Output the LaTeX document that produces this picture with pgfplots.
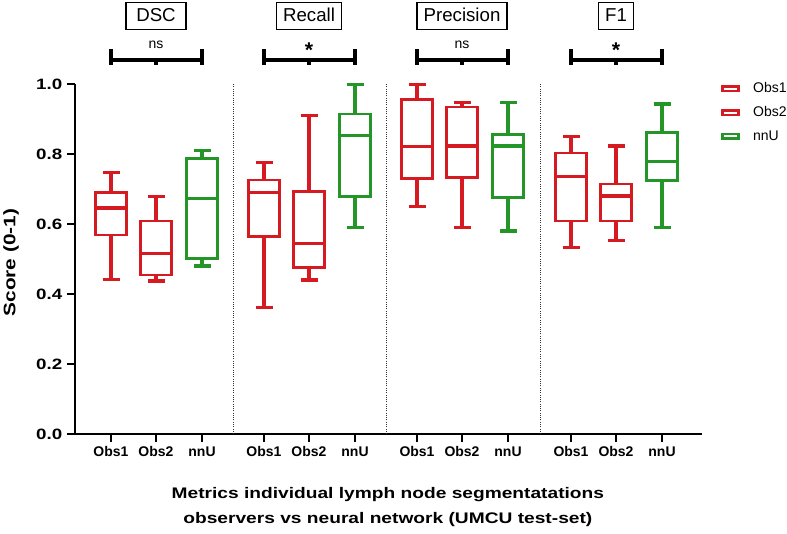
\documentclass[border=0pt]{standalone}
\usepackage{fontspec}
\setmainfont{Liberation Sans}
\newfontfamily\widefont{Liberation Sans}[FakeStretch=1.25]
\usepackage{pgfplots}
\pgfplotsset{compat=1.18}
\usepgfplotslibrary{statistics}
\definecolor{obsred}{RGB}{214,26,33}
\definecolor{nnugreen}{RGB}{36,150,40}
\pgfplotsset{
  /pgfplots/boxplot/every box/.style={line width=2pt},
  /pgfplots/boxplot/draw/whisker/.code 2 args={%
    \draw[line width=2.4pt]
      (boxplot cs:#1) -- (boxplot cs:#2)
      (boxplot whisker cs:#2,0) -- (boxplot whisker cs:#2,1);
  },
  /pgfplots/boxplot/draw/median/.code={%
    \draw[line width=2.4pt]
      (boxplot box cs:\pgfplotsboxplotvalue{median},0) --
      (boxplot box cs:\pgfplotsboxplotvalue{median},1);
  },
}
\begin{document}
\begin{tikzpicture}
\begin{axis}[
  at={(56.25pt,74.25pt)}, anchor=south west,
  scale only axis, width=470.25pt, height=262.5pt,
  xmin=75, xmax=702, ymin=0, ymax=1,
  clip=false,
  axis x line*=bottom, axis y line*=left,
  axis line style={line width=2.2pt, black},
  tick align=outside, major tick length=6pt,
  every tick/.style={line width=2pt, black},
  xtick={111,156,202,264,309,355,417,462,508,571,616,662},
  xticklabels={Obs1,Obs2,nnU,Obs1,Obs2,nnU,Obs1,Obs2,nnU,Obs1,Obs2,nnU},
  ytick={0,0.2,0.4,0.6,0.8,1},
  yticklabels={0.0,0.2,0.4,0.6,0.8,1.0},
  xticklabel style={font=\bfseries\fontsize{10.5}{12}\selectfont},
  yticklabel style={font=\widefont\bfseries\fontsize{11.25}{13}\selectfont},
  ylabel={Score (0-1)},
  ylabel style={at={(axis description cs:-0.102,0.49)}, anchor=center, font=\widefont\bfseries\fontsize{12.5}{14}\selectfont},
  xlabel={Metrics individual lymph node segmentatations\\observers vs neural network (UMCU test-set)},
  xlabel style={at={(axis description cs:0.499,-0.151)}, anchor=north, align=center, inner sep=0pt, font=\widefont\bfseries\fontsize{11.5}{18.75}\selectfont},
  boxplot/draw direction=y,
  legend image code/.code={\draw[#1, line width=1.9pt] (0pt,-1.7pt) rectangle (12pt,1.7pt);},
  legend style={draw=none, fill=none, at={(axis cs:721,1.012)}, anchor=north west, inner sep=0pt, row sep=4.8pt, font=\fontsize{10.5}{12}\selectfont, cells={anchor=west}, /tikz/every odd column/.style={column sep=8pt}},
]
% DSC
\addplot[obsred, line width=2pt, forget plot, boxplot prepared={draw position=111, lower whisker=0.442, lower quartile=0.569, median=0.646, upper quartile=0.690, upper whisker=0.748, box extend=31, whisker extend=17}] coordinates {};
\addplot[obsred, line width=2pt, forget plot, boxplot prepared={draw position=156, lower whisker=0.437, lower quartile=0.454, median=0.516, upper quartile=0.609, upper whisker=0.678, box extend=31, whisker extend=17}] coordinates {};
\addplot[nnugreen, line width=2pt, forget plot, boxplot prepared={draw position=202, lower whisker=0.480, lower quartile=0.501, median=0.673, upper quartile=0.788, upper whisker=0.810, box extend=31, whisker extend=17}] coordinates {};
% Recall
\addplot[obsred, line width=2pt, forget plot, boxplot prepared={draw position=264, lower whisker=0.362, lower quartile=0.564, median=0.690, upper quartile=0.726, upper whisker=0.775, box extend=31, whisker extend=17}] coordinates {};
\addplot[obsred, line width=2pt, forget plot, boxplot prepared={draw position=309, lower whisker=0.440, lower quartile=0.475, median=0.545, upper quartile=0.692, upper whisker=0.911, box extend=31, whisker extend=17}] coordinates {};
\addplot[nnugreen, line width=2pt, forget plot, boxplot prepared={draw position=355, lower whisker=0.590, lower quartile=0.678, median=0.854, upper quartile=0.914, upper whisker=0.999, box extend=31, whisker extend=17}] coordinates {};
% Precision
\addplot[obsred, line width=2pt, forget plot, boxplot prepared={draw position=417, lower whisker=0.650, lower quartile=0.730, median=0.822, upper quartile=0.955, upper whisker=0.999, box extend=31, whisker extend=17}] coordinates {};
\addplot[obsred, line width=2pt, forget plot, boxplot prepared={draw position=462, lower whisker=0.590, lower quartile=0.733, median=0.823, upper quartile=0.934, upper whisker=0.947, box extend=31, whisker extend=17}] coordinates {};
\addplot[nnugreen, line width=2pt, forget plot, boxplot prepared={draw position=508, lower whisker=0.580, lower quartile=0.675, median=0.823, upper quartile=0.856, upper whisker=0.947, box extend=31, whisker extend=17}] coordinates {};
% F1
\addplot[obsred, line width=2pt, forget plot, boxplot prepared={draw position=571, lower whisker=0.533, lower quartile=0.609, median=0.735, upper quartile=0.803, upper whisker=0.851, box extend=31, whisker extend=17}] coordinates {};
\addplot[obsred, line width=2pt, forget plot, boxplot prepared={draw position=616, lower whisker=0.554, lower quartile=0.609, median=0.680, upper quartile=0.714, upper whisker=0.823, box extend=31, whisker extend=17}] coordinates {};
\addplot[nnugreen, line width=2pt, forget plot, boxplot prepared={draw position=662, lower whisker=0.590, lower quartile=0.725, median=0.779, upper quartile=0.861, upper whisker=0.943, box extend=31, whisker extend=17}] coordinates {};

\addlegendimage{obsred}\addlegendentry{Obs1}
\addlegendimage{obsred}\addlegendentry{Obs2}
\addlegendimage{nnugreen}\addlegendentry{nnU}

% separators
\draw[densely dotted, line width=0.7pt, black!80] (axis cs:233,0) -- (axis cs:233,1);
\draw[densely dotted, line width=0.7pt, black!80] (axis cs:386.5,0) -- (axis cs:386.5,1);
\draw[densely dotted, line width=0.7pt, black!80] (axis cs:540,0) -- (axis cs:540,1);

% titles
\node[draw, line width=1.1pt, font=\fontsize{14}{16}\selectfont, text height=9.75pt, text depth=1.5pt, inner xsep=5pt, inner ysep=4.5pt, minimum width=45pt, anchor=base] at (axis cs:156,1.178) {DSC};
\node[draw, line width=1.1pt, font=\fontsize{14}{16}\selectfont, text height=9.75pt, text depth=1.5pt, inner xsep=5pt, inner ysep=4.5pt, anchor=base] at (axis cs:309,1.178) {Recall};
\node[draw, line width=1.1pt, font=\fontsize{14}{16}\selectfont, text height=9.75pt, text depth=1.5pt, inner xsep=5pt, inner ysep=4.5pt, anchor=base] at (axis cs:462,1.178) {Precision};
\node[draw, line width=1.1pt, font=\fontsize{14}{16}\selectfont, text height=9.75pt, text depth=1.5pt, inner xsep=5pt, inner ysep=4.5pt, anchor=base] at (axis cs:616,1.178) {F1};

% significance bars
\draw[line width=2.6pt] (axis cs:111,1.1) -- (axis cs:111,1.0543) (axis cs:111,1.0686) -- (axis cs:202,1.0686) (axis cs:202,1.1) -- (axis cs:202,1.0543) (axis cs:156,1.0686) -- (axis cs:156,1.0543);
\draw[line width=2.6pt] (axis cs:264,1.1) -- (axis cs:264,1.0543) (axis cs:264,1.0686) -- (axis cs:355,1.0686) (axis cs:355,1.1) -- (axis cs:355,1.0543) (axis cs:309,1.0686) -- (axis cs:309,1.0543);
\draw[line width=2.6pt] (axis cs:417,1.1) -- (axis cs:417,1.0543) (axis cs:417,1.0686) -- (axis cs:508,1.0686) (axis cs:508,1.1) -- (axis cs:508,1.0543) (axis cs:462,1.0686) -- (axis cs:462,1.0543);
\draw[line width=2.6pt] (axis cs:571,1.1) -- (axis cs:571,1.0543) (axis cs:571,1.0686) -- (axis cs:662,1.0686) (axis cs:662,1.1) -- (axis cs:662,1.0543) (axis cs:616,1.0686) -- (axis cs:616,1.0543);
\node[anchor=base, font=\fontsize{10.5}{12}\selectfont] at (axis cs:156,1.102) {ns};
\node[anchor=base, font=\bfseries\fontsize{16}{18}\selectfont] at (axis cs:309,1.0763) {*};
\node[anchor=base, font=\fontsize{10.5}{12}\selectfont] at (axis cs:462,1.102) {ns};
\node[anchor=base, font=\bfseries\fontsize{16}{18}\selectfont] at (axis cs:616,1.0763) {*};
\end{axis}
\pgfresetboundingbox
\path[use as bounding box] (0,0) rectangle (590.25pt,399.75pt);
\end{tikzpicture}
\end{document}
